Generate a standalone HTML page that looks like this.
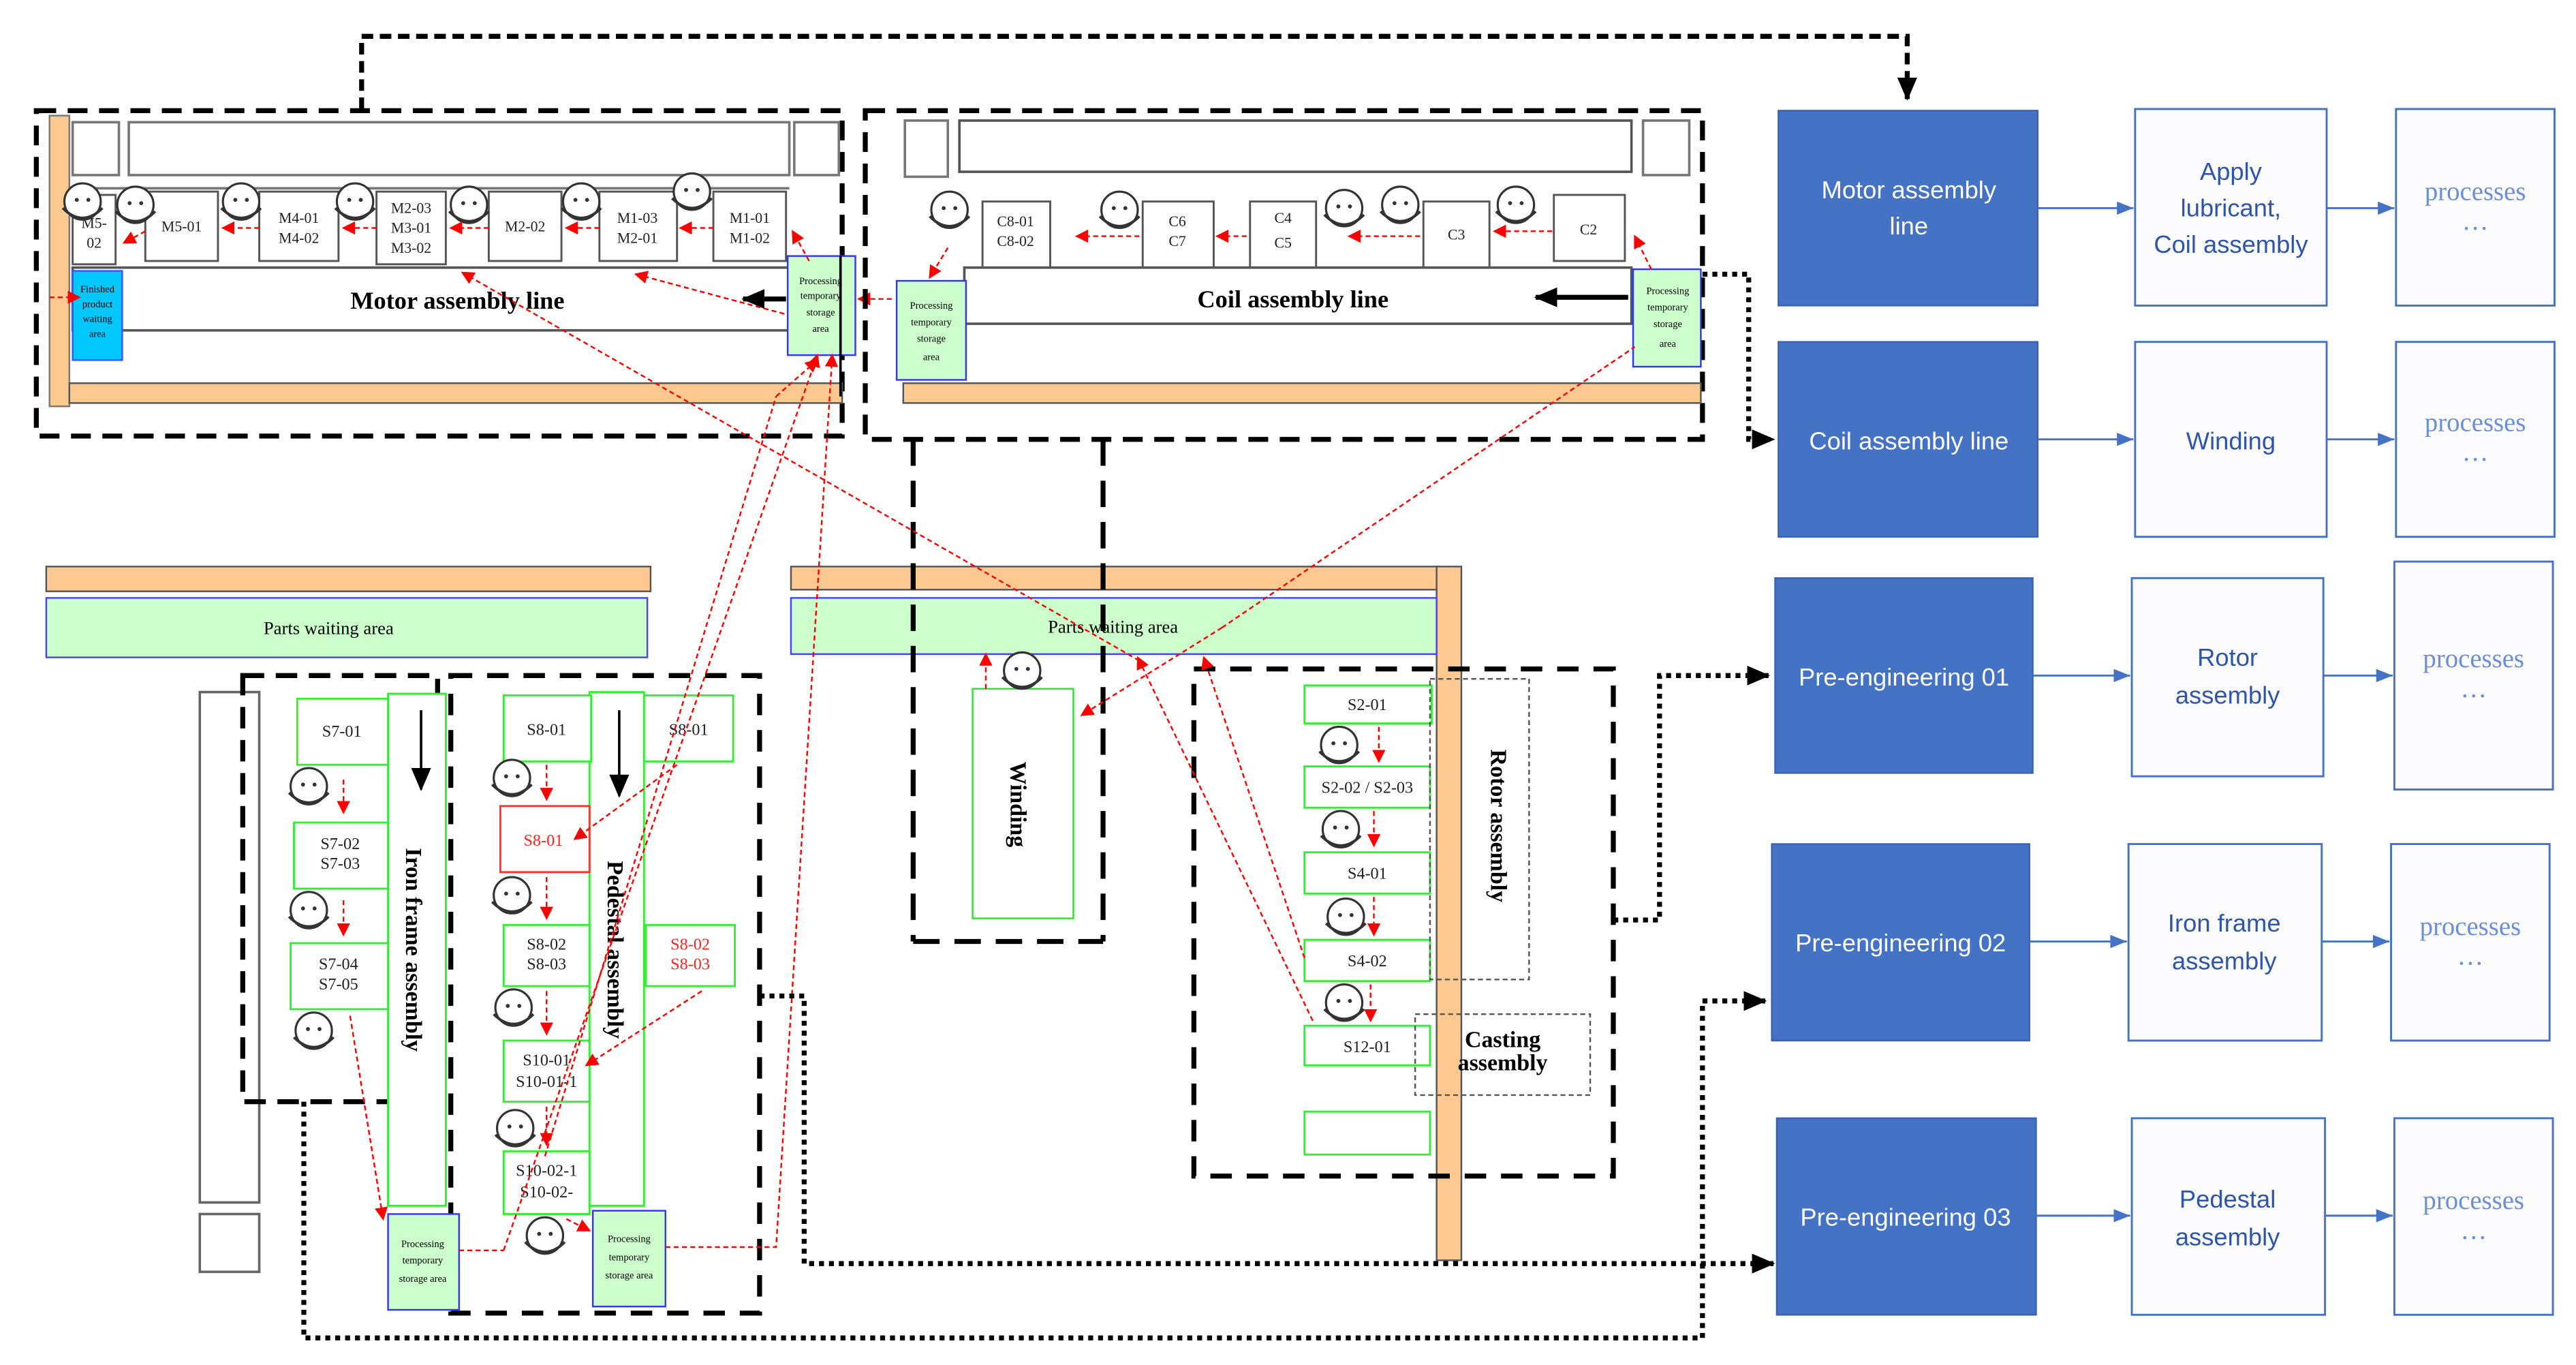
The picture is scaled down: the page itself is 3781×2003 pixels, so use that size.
<!DOCTYPE html>
<html><head><meta charset="utf-8"><style>
html,body{margin:0;padding:0;background:#fff;}
svg{display:block}
.s{font-family:"Liberation Serif",serif;}
.a{font-family:"Liberation Sans",sans-serif;}
</style></head><body>
<svg width="3781" height="2003" viewBox="0 0 1560 826.4" preserveAspectRatio="none" xmlns="http://www.w3.org/2000/svg">
<defs>
<marker id="rA" markerWidth="8" markerHeight="8" refX="7" refY="4" orient="auto" markerUnits="userSpaceOnUse"><path d="M0,0L8,4L0,8z" fill="#f00"/></marker>
<marker id="kA" markerWidth="14" markerHeight="12" refX="13" refY="6" orient="auto" markerUnits="userSpaceOnUse"><path d="M0,0L14,6L0,12z" fill="#000"/></marker>
<marker id="bA" markerWidth="10" markerHeight="8" refX="10" refY="4" orient="auto" markerUnits="userSpaceOnUse"><path d="M0,0L10,4L0,8z" fill="#4472c4"/></marker>
<g id="face"><circle cx="0" cy="0" r="11" fill="#fff" stroke="#333" stroke-width="1.3"/><circle cx="-3.5" cy="-1" r="1.2" fill="#333"/><circle cx="3.5" cy="-1" r="1.2" fill="#333"/><path d="M-12,4 Q0,16 12,4" fill="none" stroke="#333" stroke-width="1.6"/></g>
</defs>

<!-- top connector -->
<path d="M219,66 V22 H1155 V60" fill="none" stroke="#000" stroke-width="3" stroke-dasharray="7,4" marker-end="url(#kA)"/>

<!-- Motor block -->
<rect x="22" y="67" width="488" height="197" fill="none" stroke="#000" stroke-width="3" stroke-dasharray="12,7"/>
<rect x="30" y="70" width="12" height="176" fill="#fdc991" stroke="#777"/>
<rect x="42" y="232" width="468" height="12" fill="#fdc991" stroke="#555"/>
<rect x="44" y="74" width="28" height="32" fill="#fff" stroke="#777" stroke-width="1.5"/>
<rect x="78" y="74" width="400" height="32" fill="#fff" stroke="#777" stroke-width="1.5"/>
<rect x="481" y="74" width="27" height="32" fill="#fff" stroke="#777" stroke-width="1.5"/>
<line x1="44" y1="114" x2="478" y2="114" stroke="#777" stroke-width="1.5"/>
<g fill="#fff" stroke="#555" stroke-width="1.2">
<rect x="44" y="118" width="26" height="42"/><rect x="88" y="116" width="44" height="42"/><rect x="157" y="116" width="48" height="42"/><rect x="228" y="116" width="42" height="44"/><rect x="296" y="116" width="44" height="42"/><rect x="363" y="116" width="47" height="42"/><rect x="432" y="116" width="44" height="42"/>
</g>
<g class="s" font-size="9" fill="#222" text-anchor="middle">
<text x="57" y="138">M5-</text><text x="57" y="150">02</text>
<text x="110" y="140">M5-01</text>
<text x="181" y="135">M4-01</text><text x="181" y="147">M4-02</text>
<text x="249" y="129">M2-03</text><text x="249" y="141">M3-01</text><text x="249" y="153">M3-02</text>
<text x="318" y="140">M2-02</text>
<text x="386" y="135">M1-03</text><text x="386" y="147">M2-01</text>
<text x="454" y="135">M1-01</text><text x="454" y="147">M1-02</text>
</g>
<rect x="44" y="162" width="434" height="38" fill="#fff" stroke="#555" stroke-width="1.5"/>
<text x="277" y="187" class="s" font-size="15" font-weight="bold" text-anchor="middle">Motor assembly line</text>
<line x1="476" y1="181" x2="450" y2="181" stroke="#000" stroke-width="3" marker-end="url(#kA)"/>
<rect x="44" y="164" width="30" height="54" fill="#00c8ff" stroke="#35f"/>
<g class="s" font-size="6" text-anchor="middle"><text x="59" y="177">Finished</text><text x="59" y="186">product</text><text x="59" y="195">waiting</text><text x="59" y="204">area</text></g>
<rect x="477" y="155" width="41" height="60" fill="#ccffcc" stroke="#33f"/>
<g class="s" font-size="6" text-anchor="middle"><text x="497" y="172">Processing</text><text x="497" y="181">temporary</text><text x="497" y="191">storage</text><text x="497" y="201">area</text></g>
<line x1="509" y1="155" x2="509" y2="240" stroke="#000" stroke-width="1.5"/>
<use href="#face" x="50" y="122"/><use href="#face" x="82" y="124"/><use href="#face" x="146" y="122"/><use href="#face" x="215" y="122"/><use href="#face" x="284" y="124"/><use href="#face" x="352" y="122"/><use href="#face" x="419" y="116"/>
<g stroke="#f00" stroke-width="1" stroke-dasharray="3,2" fill="none" marker-end="url(#rA)">
<line x1="88" y1="140" x2="75" y2="147"/><line x1="157" y1="138" x2="135" y2="138"/><line x1="228" y1="138" x2="208" y2="138"/><line x1="296" y1="138" x2="273" y2="138"/><line x1="363" y1="138" x2="343" y2="138"/><line x1="432" y1="138" x2="412" y2="138"/>
<line x1="490" y1="158" x2="480" y2="140"/>
<line x1="475" y1="190" x2="385" y2="166"/>
<line x1="540" y1="181" x2="520" y2="181"/>
<line x1="30" y1="180" x2="48" y2="180"/>
</g>

<!-- Coil block -->
<rect x="524" y="67" width="507" height="199" fill="none" stroke="#000" stroke-width="3" stroke-dasharray="12,7"/>
<rect x="547" y="232" width="483" height="12" fill="#fdc991" stroke="#555"/>
<rect x="548" y="73" width="26" height="34" fill="#fff" stroke="#777" stroke-width="1.5"/>
<rect x="581" y="73" width="407" height="31" fill="#fff" stroke="#555" stroke-width="1.5"/>
<rect x="995" y="73" width="28" height="33" fill="#fff" stroke="#777" stroke-width="1.5"/>
<g fill="#fff" stroke="#555" stroke-width="1.2">
<rect x="595" y="122" width="41" height="40"/><rect x="692" y="122" width="43" height="40"/><rect x="757" y="122" width="40" height="40"/><rect x="862" y="122" width="40" height="40"/><rect x="941" y="118" width="43" height="40"/>
</g>
<g class="s" font-size="9" fill="#222" text-anchor="middle">
<text x="615" y="137">C8-01</text><text x="615" y="149">C8-02</text>
<text x="713" y="137">C6</text><text x="713" y="149">C7</text>
<text x="777" y="135">C4</text><text x="777" y="150">C5</text>
<text x="882" y="145">C3</text><text x="962" y="142">C2</text>
</g>
<rect x="584" y="162" width="404" height="34" fill="#fff" stroke="#555" stroke-width="1.5"/>
<text x="783" y="186" class="s" font-size="15" font-weight="bold" text-anchor="middle">Coil assembly line</text>
<line x1="986" y1="180" x2="930" y2="180" stroke="#000" stroke-width="3" marker-end="url(#kA)"/>
<rect x="543" y="170" width="42" height="60" fill="#ccffcc" stroke="#33f"/>
<g class="s" font-size="6" text-anchor="middle"><text x="564" y="187">Processing</text><text x="564" y="197">temporary</text><text x="564" y="207">storage</text><text x="564" y="218">area</text></g>
<rect x="989" y="163" width="41" height="59" fill="#ccffcc" stroke="#33f"/>
<g class="s" font-size="6" text-anchor="middle"><text x="1010" y="178">Processing</text><text x="1010" y="188">temporary</text><text x="1010" y="198">storage</text><text x="1010" y="210">area</text></g>
<use href="#face" x="575" y="127"/><use href="#face" x="678" y="127"/><use href="#face" x="814" y="126"/><use href="#face" x="848" y="124"/><use href="#face" x="918" y="124"/>
<g stroke="#f00" stroke-width="1" stroke-dasharray="3,2" fill="none" marker-end="url(#rA)">
<line x1="574" y1="150" x2="563" y2="168"/><line x1="690" y1="143" x2="652" y2="143"/><line x1="755" y1="143" x2="737" y2="143"/><line x1="860" y1="143" x2="817" y2="143"/><line x1="940" y1="140" x2="905" y2="140"/><line x1="1000" y1="163" x2="990" y2="143"/>
</g>
<path d="M1031,166 H1059 V266 H1074" fill="none" stroke="#000" stroke-width="3" stroke-dasharray="3,3" marker-end="url(#kA)"/>

<!-- Parts waiting areas -->
<rect x="28" y="343" width="366" height="15" fill="#fdc991" stroke="#555"/>
<rect x="28" y="362" width="364" height="36" fill="#ccffcc" stroke="#44f"/>
<text x="199" y="384" class="s" font-size="11" text-anchor="middle">Parts waiting area</text>
<rect x="479" y="343" width="392" height="14" fill="#fdc991" stroke="#555"/>
<rect x="870" y="343" width="15" height="420" fill="#fdc991" stroke="#555"/>
<rect x="479" y="362" width="391" height="34" fill="#ccffcc" stroke="#44f"/>
<text x="674" y="383" class="s" font-size="11" text-anchor="middle">Parts waiting area</text>

<!-- Winding group -->
<path d="M553,266 V570 M668,266 V570 M553,570 H668" fill="none" stroke="#000" stroke-width="3" stroke-dasharray="16,9"/>
<rect x="589" y="417" width="61" height="139" fill="#fff" stroke="#3d3"/>
<text transform="translate(612,487) rotate(90)" class="s" font-size="14" font-weight="bold" text-anchor="middle">Winding</text>
<use href="#face" x="619" y="406"/>

<!-- Iron frame group -->
<rect x="121" y="419" width="36" height="309" fill="#fff" stroke="#666" stroke-width="1.5"/>
<rect x="121" y="735" width="36" height="35" fill="#fff" stroke="#666" stroke-width="1.5"/>
<rect x="147" y="409" width="118" height="258" fill="none" stroke="#000" stroke-width="3" stroke-dasharray="13,7"/>
<g fill="#fff" stroke="#3e3" stroke-width="1.2">
<rect x="235" y="420" width="35" height="310"/>
<rect x="180" y="423" width="55" height="40"/><rect x="178" y="498" width="57" height="40"/><rect x="176" y="571" width="59" height="40"/>
</g>
<g class="s" font-size="10" text-anchor="middle" fill="#222">
<text x="207" y="446">S7-01</text><text x="206" y="514">S7-02</text><text x="206" y="526">S7-03</text><text x="205" y="587">S7-04</text><text x="205" y="599">S7-05</text>
</g>
<text transform="translate(246,575) rotate(90)" class="s" font-size="14" font-weight="bold" text-anchor="middle">Iron frame assembly</text>
<line x1="255" y1="430" x2="255" y2="478" stroke="#000" stroke-width="1.5" marker-end="url(#kA)"/>
<use href="#face" x="187" y="476"/><use href="#face" x="187" y="551"/><use href="#face" x="190" y="624"/>

<!-- Pedestal group -->
<rect x="273" y="409" width="187" height="386" fill="none" stroke="#000" stroke-width="3" stroke-dasharray="13,9"/>
<g fill="#fff" stroke="#3e3" stroke-width="1.2">
<rect x="357" y="419" width="33" height="311"/>
<rect x="305" y="421" width="53" height="40"/><rect x="305" y="560" width="52" height="37"/><rect x="305" y="630" width="52" height="37"/><rect x="305" y="697" width="52" height="38"/>
<rect x="390" y="421" width="54" height="40"/><rect x="391" y="560" width="54" height="37"/>
</g>
<rect x="303" y="488" width="54" height="40" fill="#fff" stroke="#f33" stroke-width="1.2"/>
<g class="s" font-size="10" text-anchor="middle" fill="#222">
<text x="331" y="445">S8-01</text><text x="417" y="445">S8-01</text>
<text x="331" y="575">S8-02</text><text x="331" y="587">S8-03</text>
<text x="331" y="645">S10-01</text><text x="331" y="658">S10-01-1</text>
<text x="331" y="712">S10-02-1</text><text x="331" y="725">S10-02-</text>
<text x="329" y="512" fill="#f22">S8-01</text>
<text x="418" y="575" fill="#f22">S8-02</text><text x="418" y="587" fill="#f22">S8-03</text>
</g>
<text transform="translate(368,575) rotate(90)" class="s" font-size="14" font-weight="bold" text-anchor="middle">Pedestal assembly</text>
<line x1="375" y1="430" x2="375" y2="482" stroke="#000" stroke-width="1.5" marker-end="url(#kA)"/>
<use href="#face" x="310" y="471"/><use href="#face" x="310" y="542"/><use href="#face" x="311" y="610"/><use href="#face" x="312" y="683"/><use href="#face" x="330" y="748"/>
<rect x="235" y="735" width="43" height="58" fill="#ccffcc" stroke="#33f"/>
<g class="s" font-size="6" text-anchor="middle"><text x="256" y="755">Processing</text><text x="256" y="765">temporary</text><text x="256" y="776">storage area</text></g>
<rect x="359" y="733" width="44" height="58" fill="#ccffcc" stroke="#33f"/>
<g class="s" font-size="6" text-anchor="middle"><text x="381" y="752">Processing</text><text x="381" y="763">temporary</text><text x="381" y="774">storage area</text></g>
<g stroke="#f00" stroke-width="1" stroke-dasharray="3,2" fill="none" marker-end="url(#rA)">
<line x1="208" y1="472" x2="208" y2="492"/><line x1="208" y1="545" x2="208" y2="566"/>
<line x1="331" y1="463" x2="331" y2="484"/><line x1="331" y1="531" x2="331" y2="556"/><line x1="331" y1="600" x2="331" y2="626"/><line x1="331" y1="670" x2="331" y2="693"/>
<line x1="212" y1="615" x2="232" y2="738"/>
<line x1="410" y1="463" x2="348" y2="508"/>
<line x1="425" y1="600" x2="355" y2="645"/>
<line x1="343" y1="738" x2="357" y2="745"/>
<line x1="278" y1="757" x2="305" y2="757" marker-end="none"/>
<path d="M305,757 L495,215" />
<path d="M403,755 H470 L504,215"/>
<line x1="330" y1="700" x2="470" y2="240" marker-end="none"/>
</g>

<!-- Rotor group -->
<rect x="723" y="405" width="254" height="307" fill="none" stroke="#000" stroke-width="3" stroke-dasharray="13,9"/>
<g fill="#fff" stroke="#3e3" stroke-width="1.2">
<rect x="790" y="415" width="77" height="23"/><rect x="790" y="464" width="76" height="25"/><rect x="790" y="516" width="76" height="25"/><rect x="790" y="569" width="76" height="25"/><rect x="790" y="621" width="76" height="24"/><rect x="790" y="673" width="76" height="26"/>
</g>
<g class="s" font-size="10" text-anchor="middle" fill="#222">
<text x="828" y="430">S2-01</text><text x="828" y="480">S2-02 / S2-03</text><text x="828" y="532">S4-01</text><text x="828" y="585">S4-02</text><text x="828" y="637">S12-01</text>
</g>
<rect x="866" y="411" width="60" height="182" fill="none" stroke="#555" stroke-dasharray="3,2"/>
<text transform="translate(903,500) rotate(90)" class="s" font-size="14" font-weight="bold" text-anchor="middle">Rotor assembly</text>
<rect x="857" y="614" width="106" height="49" fill="none" stroke="#555" stroke-dasharray="3,2"/>
<text x="910" y="634" class="s" font-size="14" font-weight="bold" text-anchor="middle">Casting</text>
<text x="910" y="648" class="s" font-size="14" font-weight="bold" text-anchor="middle">assembly</text>
<use href="#face" x="811" y="451"/><use href="#face" x="812" y="502"/><use href="#face" x="815" y="555"/><use href="#face" x="814" y="607"/>
<g stroke="#f00" stroke-width="1" stroke-dasharray="3,2" fill="none" marker-end="url(#rA)">
<line x1="835" y1="440" x2="835" y2="461"/><line x1="832" y1="491" x2="832" y2="512"/><line x1="832" y1="543" x2="832" y2="566"/><line x1="830" y1="596" x2="830" y2="618"/>
<line x1="597" y1="417" x2="597" y2="396"/>
<line x1="790" y1="580" x2="729" y2="398"/>
<line x1="795" y1="618" x2="689" y2="398"/>
<line x1="690" y1="400" x2="280" y2="165"/>
<line x1="740" y1="380" x2="990" y2="210" marker-end="none"/>
<line x1="740" y1="380" x2="655" y2="433"/>
<line x1="470" y1="240" x2="495" y2="218"/>
</g>

<!-- connectors to right -->
<path d="M977,557 H1005 V409 H1071" fill="none" stroke="#000" stroke-width="3" stroke-dasharray="3,3" marker-end="url(#kA)"/>
<path d="M184,667 V810 H1031 V606 H1069" fill="none" stroke="#000" stroke-width="3" stroke-dasharray="3,3" marker-end="url(#kA)"/>
<path d="M460,603 H487 V765 H1074" fill="none" stroke="#000" stroke-width="3" stroke-dasharray="3,3" marker-end="url(#kA)"/>

<!-- Right column -->
<g fill="#4472c4" stroke="#3a62b0">
<rect x="1077" y="67" width="157" height="118"/><rect x="1077" y="207" width="157" height="118"/><rect x="1075" y="350" width="156" height="118"/><rect x="1073" y="511" width="156" height="119"/><rect x="1076" y="677" width="157" height="119"/>
</g>
<g class="a" font-size="15" fill="#fff" text-anchor="middle">
<text x="1156" y="120">Motor assembly</text><text x="1156" y="142">line</text>
<text x="1156" y="272">Coil assembly line</text>
<text x="1153" y="415">Pre-engineering 01</text>
<text x="1151" y="576">Pre-engineering 02</text>
<text x="1154" y="742">Pre-engineering 03</text>
</g>
<g fill="#fcfcff" stroke="#4472c4" stroke-width="1.2">
<rect x="1293" y="66" width="116" height="119"/><rect x="1293" y="207" width="116" height="118"/><rect x="1291" y="350" width="116" height="120"/><rect x="1289" y="511" width="117" height="119"/><rect x="1291" y="677" width="117" height="119"/>
<rect x="1451" y="66" width="96" height="119"/><rect x="1451" y="207" width="96" height="118"/><rect x="1450" y="340" width="96" height="138"/><rect x="1448" y="511" width="96" height="119"/><rect x="1450" y="677" width="96" height="119"/>
</g>
<g class="a" font-size="15" fill="#2f55a8" text-anchor="middle">
<text x="1351" y="109">Apply</text><text x="1351" y="131">lubricant,</text><text x="1351" y="153">Coil assembly</text>
<text x="1351" y="272">Winding</text>
<text x="1349" y="403">Rotor</text><text x="1349" y="426">assembly</text>
<text x="1347" y="564">Iron frame</text><text x="1347" y="587">assembly</text>
<text x="1349" y="731">Pedestal</text><text x="1349" y="754">assembly</text>
</g>
<g class="s" font-size="16" fill="#6b8fd6" text-anchor="middle">
<text x="1499" y="121">processes</text><text x="1499" y="139">…</text>
<text x="1499" y="261">processes</text><text x="1499" y="279">…</text>
<text x="1498" y="404">processes</text><text x="1498" y="422">…</text>
<text x="1496" y="566">processes</text><text x="1496" y="584">…</text>
<text x="1498" y="732">processes</text><text x="1498" y="750">…</text>
</g>
<g stroke="#4472c4" stroke-width="1.2" marker-end="url(#bA)">
<line x1="1234" y1="126" x2="1292" y2="126"/><line x1="1409" y1="126" x2="1450" y2="126"/>
<line x1="1234" y1="266" x2="1292" y2="266"/><line x1="1409" y1="266" x2="1450" y2="266"/>
<line x1="1231" y1="409" x2="1290" y2="409"/><line x1="1407" y1="409" x2="1449" y2="409"/>
<line x1="1229" y1="570" x2="1288" y2="570"/><line x1="1406" y1="570" x2="1447" y2="570"/>
<line x1="1233" y1="736" x2="1290" y2="736"/><line x1="1408" y1="736" x2="1449" y2="736"/>
</g>
</svg>
</body></html>
